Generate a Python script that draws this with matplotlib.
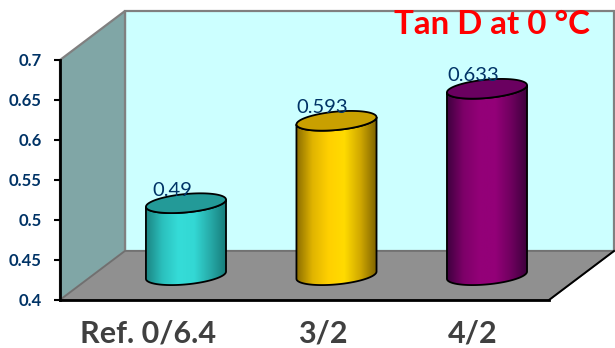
import numpy as np
import matplotlib
matplotlib.use("Agg")
import matplotlib.pyplot as plt
from matplotlib.colors import LinearSegmentedColormap
from matplotlib.patches import Polygon

categories = ["Ref. 0/6.4", "3/2", "4/2"]
values = [0.49, 0.593, 0.633]
value_labels = ["0.49", "0.593", "0.633"]
yticks = [0.4, 0.45, 0.5, 0.55, 0.6, 0.65, 0.7]
ytick_labels = ["0.4", "0.45", "0.5", "0.55", "0.6", "0.65", "0.7"]
title = "Tan D at 0 °C"

side_colors = [
    ["#1c8583", "#2bc0bd", "#35dcd8", "#33d8d4", "#27aaa8", "#167a78"],
    ["#8a6c00", "#e0b400", "#ffd000", "#ffdb00", "#d0a800", "#7d6200"],
    ["#3f003f", "#7d0068", "#930078", "#930078", "#6e005e", "#3a003a"],
]
cap_colors = ["#239a98", "#c9a000", "#6a0060"]

W, H = 615, 348
fig = plt.figure(figsize=(W / 100, H / 100), dpi=100, facecolor="white")
ax = fig.add_axes([60 / W, 1 - 300 / H, 489 / W, 240 / H])
ax.set_ylim(0.4, 0.7)
ax.set_xlim(-0.837, 2.412)

# oblique depth offset of the 3D box, in axes fractions
dx, dy = 65 / 489, 49 / 240
tr = ax.transAxes
back_wall = Polygon([(dx, dy), (1 + dx, dy), (1 + dx, 1 + dy), (dx, 1 + dy)],
                    transform=tr, clip_on=False, fc="#ccffff", ec="#808080", lw=1.6, zorder=1)
side_wall = Polygon([(0, 0), (dx, dy), (dx, 1 + dy), (0, 1)],
                    transform=tr, clip_on=False, fc="#80a6a6", ec="#808080", lw=1.6, zorder=1)
floor = Polygon([(0, 0), (1, 0), (1 + dx, dy), (dx, dy)],
                transform=tr, clip_on=False, fc="#909090", ec="#707070", lw=1.2, zorder=1.2)
for p in (back_wall, side_wall, floor):
    ax.add_patch(p)
ax.plot([1, 1 + dx], [0, dy], transform=tr, clip_on=False, color="black", lw=1.4, zorder=1.3)

# cylinders stand part way back on the floor, so heights are measured from this lifted base
axis_floor = 0.4
base = 0.431
half_w = 0.266
minor = 0.0115
tilt = 0.0045

def ring(cx, cy, t):
    return cx + half_w * np.cos(t), cy + minor * np.sin(t) + tilt * np.cos(t)

for i, v in enumerate(values):
    top = base + (v - axis_floor)
    t_low = np.linspace(np.pi, 2 * np.pi, 60)
    xb, yb = ring(i, base, t_low)
    xt, yt = ring(i, top, t_low[::-1])
    outline = np.column_stack([np.r_[xb, xt], np.r_[yb, yt]])
    body = Polygon(outline, closed=True, fc="none", ec="black", lw=1.3, zorder=3.2)
    cmap = LinearSegmentedColormap.from_list(f"side{i}", side_colors[i])
    im = ax.imshow(np.linspace(0, 1, 128)[None, :], cmap=cmap, aspect="auto",
                   extent=[i - half_w, i + half_w, base - 0.03, top + 0.03], zorder=3)
    ax.add_patch(body)
    im.set_clip_path(body)
    t_full = np.linspace(0, 2 * np.pi, 120)
    xc, yc = ring(i, top, t_full)
    ax.add_patch(Polygon(np.column_stack([xc, yc]), closed=True, fc=cap_colors[i],
                         ec="black", lw=1.3, zorder=3.4))
    ax.annotate(value_labels[i], (i, top), xytext=(-14, 13), textcoords="offset pixels",
                ha="center", va="center", color="#003366", fontsize=14.5,
                family="Lato", zorder=4)

ax.set_xlim(-0.837, 2.412)
ax.set_ylim(0.4, 0.7)
ax.patch.set_visible(False)

for s in ("top", "right"):
    ax.spines[s].set_visible(False)
for s in ("left", "bottom"):
    ax.spines[s].set_linewidth(2)
    ax.spines[s].set_color("black")
    ax.spines[s].set_zorder(2)

ax.set_yticks(yticks)
ax.set_yticklabels(ytick_labels, color="#003366", fontsize=12, fontweight="bold", family="Lato")
ax.tick_params(axis="y", length=4, width=1.5, color="black", pad=9)
ax.set_xticks(range(len(categories)))
ax.set_xticklabels([])
ax.tick_params(axis="x", length=0)

# category names sit a little left of the cylinders
for i, c in enumerate(categories):
    offset = [-38, -14, -14][i]
    ax.annotate(c, (i, 0.4), xytext=(offset, -33), textcoords="offset pixels",
                ha="center", va="center", color="#404040", fontsize=22,
                fontweight="bold", family="Lato", annotation_clip=False)

fig.text(492 / W, 1 - 24 / H, title, color="#ff0000", fontsize=23.8, fontweight="bold",
         family="Lato", ha="center", va="center")

fig.savefig("out.png", dpi=100)
